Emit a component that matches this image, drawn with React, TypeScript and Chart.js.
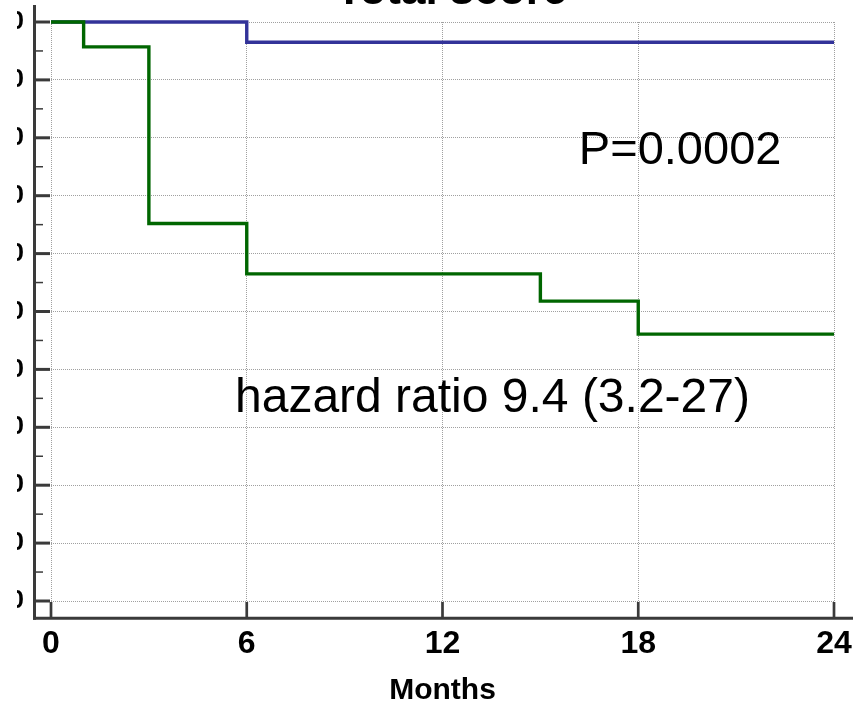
import React, { useEffect, useRef } from 'react';
import { Chart, registerables } from 'chart.js';

Chart.register(...registerables);

// ---- data ----
const monthTicks = [0, 6, 12, 18, 24];
const survivalTicks = [0, 10, 20, 30, 40, 50, 60, 70, 80, 90, 100];
const lowScoreTimes = [0, 6, 24];
const lowScoreSurvival = [100, 96.5, 96.5];
const highScoreTimes = [0, 1, 3, 6, 15, 18, 24];
const highScoreSurvival = [100, 95.7, 65.2, 56.5, 51.8, 46.1, 46.1];

const titleText = 'Total score';
const xAxisTitle = 'Months';
const pValueText = 'P=0.0002';
const hazardText = 'hazard ratio 9.4 (3.2-27)';
// annotation anchors (months, survival %) – left edge / baseline
const pValueAnchor = [16.18, 75.5];
const hazardAnchor = [5.64, 32.7];

// ---- layout ----
const CANVAS_LEFT = 17; // canvas starts here on the page (labels left of it are cut)
const OFFSET_Y = 60;
const CW = 865 - CANVAS_LEFT;
const CH = 710 + OFFSET_Y;
const FONT = "'Liberation Sans', Arial, Helvetica, sans-serif";
const AXIS_COLOR = '#3a3a3a';

const decorPlugin = {
  id: 'kmDecor',
  afterDraw(chart: any) {
    const { ctx, chartArea: a, scales } = chart;
    const xs = scales.x;
    const ys = scales.y;
    ctx.save();
    ctx.strokeStyle = AXIS_COLOR;
    ctx.lineCap = 'butt';
    // y axis line
    ctx.lineWidth = 3;
    ctx.beginPath();
    ctx.moveTo(a.left - 16.5, a.top - 17);
    ctx.lineTo(a.left - 16.5, a.bottom + 18.8);
    ctx.stroke();
    // x axis line
    ctx.beginPath();
    ctx.moveTo(a.left - 18, a.bottom + 17.3);
    ctx.lineTo(a.right + 19, a.bottom + 17.3);
    ctx.stroke();
    // y major ticks
    survivalTicks.forEach((v) => {
      const py = ys.getPixelForValue(v);
      ctx.lineWidth = 3;
      ctx.beginPath();
      ctx.moveTo(a.left - 16, py);
      ctx.lineTo(a.left - 1, py);
      ctx.stroke();
    });
    // y minor ticks
    survivalTicks.slice(0, -1).forEach((v) => {
      const py = ys.getPixelForValue(v + 5);
      ctx.lineWidth = 1.5;
      ctx.beginPath();
      ctx.moveTo(a.left - 16, py);
      ctx.lineTo(a.left - 8, py);
      ctx.stroke();
    });
    // x major ticks
    monthTicks.forEach((t) => {
      const px = xs.getPixelForValue(t);
      ctx.lineWidth = 2.7;
      ctx.beginPath();
      ctx.moveTo(px, a.bottom + 1);
      ctx.lineTo(px, a.bottom + 16);
      ctx.stroke();
    });

    // title (mostly cropped above)
    ctx.fillStyle = '#000';
    ctx.font = `bold 44px ${FONT}`;
    ctx.textAlign = 'center';
    ctx.textBaseline = 'alphabetic';
    ctx.fillText(titleText, a.left + 400.5, a.top - 18);

    // annotations
    ctx.textAlign = 'left';
    ctx.font = `47px ${FONT}`;
    ctx.fillText(pValueText, xs.getPixelForValue(pValueAnchor[0]), ys.getPixelForValue(pValueAnchor[1]));
    ctx.font = `48px ${FONT}`;
    ctx.fillText(hazardText, xs.getPixelForValue(hazardAnchor[0]), ys.getPixelForValue(hazardAnchor[1]));
    ctx.restore();
  },
};

export default function App() {
  const canvasRef = useRef<HTMLCanvasElement | null>(null);

  useEffect(() => {
    const canvas = canvasRef.current;
    if (!canvas) return;
    const chart = new Chart(canvas, {
      type: 'line',
      data: {
        datasets: [
          {
            label: 'High score',
            data: highScoreTimes.map((t, i) => ({ x: t, y: highScoreSurvival[i] })),
            borderColor: '#006600',
            borderWidth: 3.4,
            stepped: true,
            pointRadius: 0,
            fill: false,
            clip: false,
          },
          {
            label: 'Low score',
            data: lowScoreTimes.map((t, i) => ({ x: t, y: lowScoreSurvival[i] })),
            borderColor: '#333399',
            borderWidth: 3.4,
            stepped: true,
            pointRadius: 0,
            fill: false,
            clip: false,
          },
        ],
      },
      options: {
        responsive: false,
        animation: false,
        devicePixelRatio: 1,
        layout: { padding: { left: 0, top: 82, right: 31, bottom: 0 } },
        plugins: {
          legend: { display: false },
          title: { display: false },
          tooltip: { enabled: false },
        },
        scales: {
          x: {
            type: 'linear',
            min: 0,
            max: 24,
            afterBuildTicks: (s: any) => {
              s.ticks = monthTicks.map((v) => ({ value: v }));
            },
            afterFit: (s: any) => {
              s.height = 109;
              s.paddingLeft = 0;
              s.paddingRight = 0;
            },
            grid: { color: '#a0a0a0', lineWidth: 1, drawTicks: false },
            border: { display: false, dash: [1, 1] },
            ticks: {
              padding: 24,
              autoSkip: false,
              maxRotation: 0,
              color: '#000',
              font: { family: FONT, size: 32, weight: 'bold' },
            },
            title: {
              display: true,
              text: xAxisTitle,
              color: '#000',
              font: { family: FONT, size: 30, weight: 'bold' },
              padding: { top: 0, bottom: 1 },
            },
          },
          y: {
            type: 'linear',
            min: 0,
            max: 100,
            afterBuildTicks: (s: any) => {
              s.ticks = survivalTicks.map((v) => ({ value: v }));
            },
            afterFit: (s: any) => {
              s.width = 34;
              s.paddingTop = 0;
              s.paddingBottom = 0;
            },
            grid: { color: '#a0a0a0', lineWidth: 1, drawTicks: false },
            border: { display: false, dash: [1, 1] },
            ticks: {
              padding: 27,
              color: '#000',
              font: { family: FONT, size: 26, weight: 'bold' },
            },
          },
        },
      },
      plugins: [decorPlugin],
    } as any);
    return () => chart.destroy();
  }, []);

  return (
    <div
      style={{
        position: 'fixed',
        left: 0,
        top: 0,
        width: 865,
        height: 710,
        overflow: 'hidden',
        background: '#fff',
      }}
    >
      <canvas
        ref={canvasRef}
        width={CW}
        height={CH}
        style={{ position: 'absolute', left: CANVAS_LEFT, top: -OFFSET_Y, width: CW, height: CH }}
      />
    </div>
  );
}
